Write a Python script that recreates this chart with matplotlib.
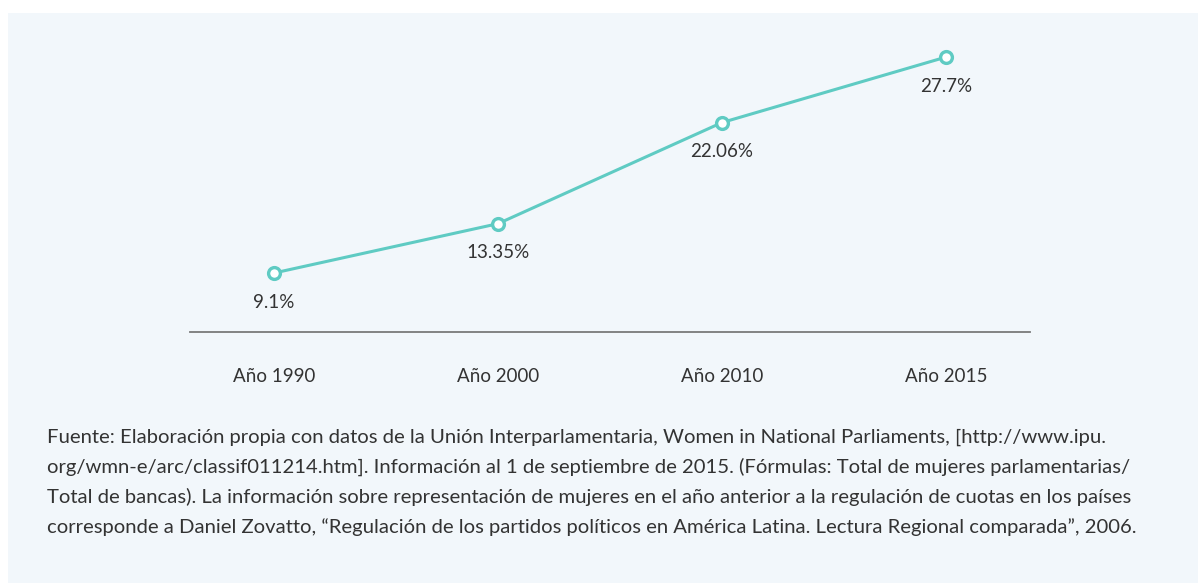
import matplotlib
matplotlib.use("Agg")
import matplotlib.pyplot as plt
from matplotlib.patches import Rectangle

categories = ["Año 1990", "Año 2000", "Año 2010", "Año 2015"]
values = [9.1, 13.35, 22.06, 27.7]
value_labels = ["9.1%", "13.35%", "22.06%", "27.7%"]
footer_lines = [
    "Fuente: Elaboración propia con datos de la Unión Interparlamentaria, Women in National Parliaments, [http://www.ipu.",
    "org/wmn-e/arc/classif011214.htm]. Información al 1 de septiembre de 2015. (Fórmulas: Total de mujeres parlamentarias/",
    "Total de bancas). La información sobre representación de mujeres en el año anterior a la regulación de cuotas en los países",
    "corresponde a Daniel Zovatto, “Regulación de los partidos políticos en América Latina. Lectura Regional comparada”, 2006.",
]

W, H = 1198, 583
FONT = "Lato"
TEXT_C = "#333333"
LINE_C = "#5fcbc3"
BG = "#f2f7fb"

fig = plt.figure(figsize=(W / 100, H / 100), dpi=100, facecolor="white")
fig.patches.append(Rectangle((8 / W, 0), 1 - 8 / W, (H - 13) / H,
                             transform=fig.transFigure, facecolor=BG,
                             edgecolor="none", zorder=-5))

ax = fig.add_axes([190 / W, (H - 332) / H, 840 / W, 292 / H])
ax.set_zorder(2)
ax.set_facecolor("none")
x = list(range(len(categories)))
ax.plot(x, values, color=LINE_C, lw=2.2, marker="o", ms=8.5,
        mfc="white", mec=LINE_C, mew=2.4, zorder=3, clip_on=False)
for xi, v, lab in zip(x, values, value_labels):
    ax.annotate(lab, (xi, v), xytext=(0, -21), textcoords="offset points",
                ha="center", va="center", fontsize=13.5, family=FONT, color=TEXT_C)

ax.set_xlim(-0.375, 3.375)
ax.set_ylim(4.02, 29.17)
for s in ["top", "right", "left"]:
    ax.spines[s].set_visible(False)
ax.spines["bottom"].set_color("#7a7a7a")
ax.spines["bottom"].set_linewidth(1.3)
ax.set_yticks([])
ax.set_xticks(x)
ax.set_xticklabels(categories, fontsize=13.5, family=FONT, color=TEXT_C)
ax.tick_params(axis="x", length=0, pad=26)

y0 = H - 437
for i, line in enumerate(footer_lines):
    fig.text(47 / W, (y0 - i * 30) / H, line, fontsize=14.6, family=FONT,
             color=TEXT_C, ha="left", va="center")

fig.savefig("out.png", dpi=100, facecolor="white")
